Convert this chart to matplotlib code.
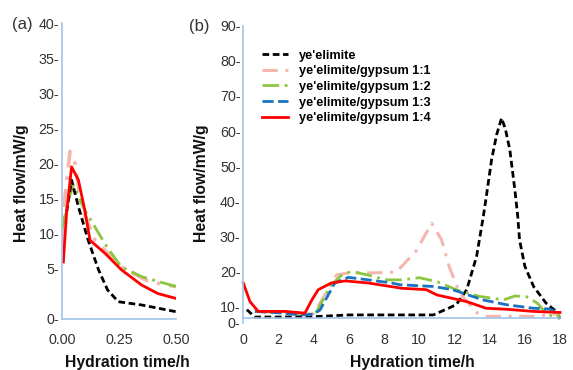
import matplotlib
matplotlib.use('Agg')
import matplotlib.pyplot as plt

plt.rcParams['font.family'] = ['Liberation Sans', 'DejaVu Sans']

# panel (a): early hydration, time in h, heat flow in mW/g (axis units)
t_a_black = [0.02, 0.042, 0.072, 0.115, 0.16, 0.2, 0.247, 0.35, 0.5]
q_a_black = [13.0, 17.6, 13.8, 9.0, 4.8, 1.9, 0.23, -0.24, -1.2]
t_a_pink = [0.0, 0.013, 0.035, 0.057, 0.086, 0.145, 0.26, 0.38, 0.5]
q_a_pink = [8.1, 15.2, 21.7, 20.0, 13.8, 9.0, 5.2, 3.1, 2.4]
t_a_green = [0.0, 0.028, 0.05, 0.1, 0.196, 0.26, 0.35, 0.5]
q_a_green = [10.5, 14.8, 16.9, 13.3, 8.1, 5.2, 3.8, 2.4]
t_a_red = [0.006, 0.02, 0.042, 0.072, 0.1, 0.123, 0.19, 0.26, 0.35, 0.42, 0.5]
q_a_red = [5.9, 12.9, 19.5, 17.6, 13.3, 9.0, 7.1, 4.8, 2.6, 1.4, 0.7]

# panel (b): 0-18 h
t_b_black = [0.2, 0.66, 2.0, 4.0, 6.0, 8.9, 10.8, 11.7, 12.1, 12.7, 13.26, 13.64,
             13.86, 14.11, 14.4, 14.68, 14.9, 15.15, 15.44, 15.6, 15.7, 16.0, 16.5,
             17.2, 17.9, 18.0]
q_b_black = [9.1, 7.0, 7.0, 7.1, 7.6, 7.6, 7.6, 9.6, 10.5, 14.8, 24.3, 35.6,
             43.0, 51.8, 59.0, 63.7, 60.5, 54.6, 43.0, 35.6, 29.0, 21.5, 15.7,
             11.0, 8.1, 5.7]
t_b_pink = [0.66, 2.0, 3.5, 4.0, 4.6, 5.3, 6.0, 7.5, 8.7, 9.85, 10.7, 11.27,
            11.7, 12.3, 13.3, 13.8, 16.5, 18.0]
q_b_pink = [8.6, 8.4, 8.0, 8.0, 13.0, 19.0, 19.6, 19.6, 19.8, 26.0, 33.8, 29.0,
            21.4, 13.8, 8.1, 7.2, 7.2, 8.0]
t_b_green = [0.66, 2.0, 3.5, 4.0, 4.17, 5.0, 5.6, 6.16, 7.5, 8.0, 9.0, 10.0,
             11.0, 12.1, 13.4, 14.8, 15.44, 16.1, 16.7, 17.2, 17.7, 18.0]
q_b_green = [8.6, 8.4, 8.0, 7.8, 8.6, 16.2, 19.0, 20.0, 18.5, 17.6, 17.6, 18.2,
             17.1, 14.8, 12.9, 11.9, 13.0, 12.8, 11.0, 8.2, 6.8, 7.6]
t_b_blue = [0.66, 2.0, 3.3, 4.0, 4.36, 4.83, 5.2, 5.97, 7.1, 8.43, 8.9, 10.8,
            11.9, 13.6, 14.96, 16.5, 17.4, 17.9]
q_b_blue = [8.6, 8.2, 7.6, 7.8, 9.0, 13.3, 16.7, 18.3, 17.6, 16.7, 16.2, 15.7,
            14.8, 11.9, 10.5, 9.5, 9.3, 8.2]
t_b_red = [0.0, 0.38, 0.85, 2.4, 3.5, 3.9, 4.26, 5.0, 5.8, 7.1, 9.0, 10.4, 11.0,
           12.7, 13.8, 15.0, 16.5, 18.0]
q_b_red = [16.7, 11.4, 8.6, 8.6, 8.1, 11.9, 14.8, 16.7, 17.3, 16.7, 15.2, 14.8,
           13.3, 11.4, 9.5, 9.2, 8.6, 8.3]

labels = ["ye'elimite", "ye'elimite/gypsum 1:1", "ye'elimite/gypsum 1:2",
          "ye'elimite/gypsum 1:3", "ye'elimite/gypsum 1:4"]

yticks_a = [5, 10, 15, 20, 25, 30, 35, 40]
yticks_b = [10, 20, 30, 40, 50, 60, 70, 80, 90]
xticks_a = [0.0, 0.25, 0.5]
xticks_b = [0, 2, 4, 6, 8, 10, 12, 14, 16, 18]

c_black = '#000000'
c_pink = '#f4b7af'
c_green = '#8cc63f'
c_blue = '#1b72c0'
c_red = '#ff0000'
spine_col = '#9fc5e8'
txt_col = '#333333'

fig = plt.figure(figsize=(5.73, 3.70), dpi=100)
ax_a = fig.add_axes([62 / 573, 1 - 319 / 370, 114 / 573, (319 - 23.3) / 370])
ax_b = fig.add_axes([243.3 / 573, 1 - 323 / 370, (560 - 243.3) / 573, (323 - 25.8) / 370])


def style_axis(ax, yt, zero_pos, xt, xfmt):
    for s in ['top', 'right']:
        ax.spines[s].set_visible(False)
    for s in ['left', 'bottom']:
        ax.spines[s].set_color(spine_col)
        ax.spines[s].set_linewidth(1.2)
    ax.set_yticks([zero_pos] + yt)
    ax.set_yticklabels(['0-'] + ['%d-' % v for v in yt])
    ax.set_xticks(xt)
    ax.set_xticklabels([xfmt % v for v in xt])
    ax.tick_params(axis='y', length=0, pad=2, labelsize=10.3, labelcolor=txt_col)
    ax.tick_params(axis='x', length=0, pad=10, labelsize=10.3, labelcolor=txt_col)


# panel (a)
ax_a.plot(t_a_pink, q_a_pink, color=c_pink, lw=2.6, dashes=(5, 2.5, 1, 2.5))
ax_a.plot(t_a_green, q_a_green, color=c_green, lw=2.0, dashes=(6, 2, 1, 2))
ax_a.plot(t_a_black, q_a_black, color=c_black, lw=2.0, dashes=(2.4, 1.3))
ax_a.plot(t_a_red, q_a_red, color=c_red, lw=2.0)
ax_a.set_xlim(0, 0.5)
ax_a.set_ylim(-2.24, 40)
style_axis(ax_a, yticks_a, -2.24, xticks_a, '%.2f')

# panel (b)
ax_b.plot(t_b_black, q_b_black, color=c_black, lw=2.0, dashes=(2.4, 1.3), label=labels[0], clip_on=False)
ax_b.plot(t_b_pink, q_b_pink, color=c_pink, lw=2.2, dashes=(5, 2.5, 1, 2.5), label=labels[1], clip_on=False)
ax_b.plot(t_b_green, q_b_green, color=c_green, lw=2.0, dashes=(6, 2, 1, 2), label=labels[2], clip_on=False)
ax_b.plot(t_b_blue, q_b_blue, color=c_blue, lw=2.0, dashes=(4, 1.6), label=labels[3], clip_on=False)
ax_b.plot(t_b_red, q_b_red, color=c_red, lw=2.0, label=labels[4], clip_on=False)
ax_b.set_xlim(0, 18)
ax_b.set_ylim(5.3, 90)
ax_b.spines['bottom'].set_position(('data', 6.8))
style_axis(ax_b, yticks_b, 5.3, xticks_b, '%d')
ax_b.tick_params(axis='x', pad=11)

leg = ax_b.legend(loc='upper left', bbox_to_anchor=(262 / 573, 1 - 49.5 / 370),
                  bbox_transform=fig.transFigure, frameon=False, borderpad=0,
                  borderaxespad=0, handlelength=2.0, handletextpad=0.86,
                  labelspacing=0.29, prop={'weight': 'bold', 'size': 9.2})

# axis titles
for ax, xc, yc in [(ax_a, 127.5, 21.7), (ax_b, 412, 201.7)]:
    ax.set_xlabel('Hydration time/h', fontsize=11.3, fontweight='bold', color='#111111')
    ax.xaxis.set_label_coords(xc / 573, 1 - 363 / 370, transform=fig.transFigure)
    ax.set_ylabel('Heat flow/mW/g', fontsize=11.3, fontweight='bold', color='#111111')
    ax.yaxis.set_label_coords(yc / 573, 1 - 183 / 370, transform=fig.transFigure)
    ax.xaxis.label.set_va('center')
    ax.yaxis.label.set_va('center')

fig.text(12 / 573, 1 - 24 / 370, '(a)', fontsize=12, color=txt_col, va='center')
fig.text(189 / 573, 1 - 26 / 370, '(b)', fontsize=12, color=txt_col, va='center')

fig.savefig('out.png', dpi=100)
